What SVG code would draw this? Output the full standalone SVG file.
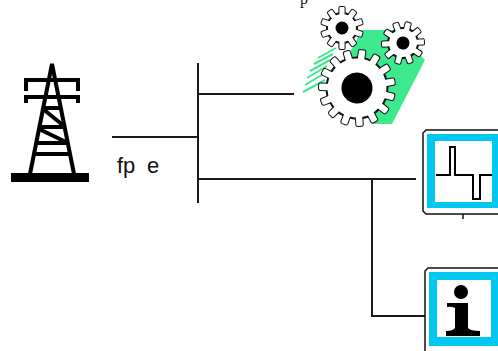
<svg xmlns="http://www.w3.org/2000/svg" xmlns:xlink="http://www.w3.org/1999/xlink" width="498" height="351" viewBox="0 0 498 351">
  <style>
    .wire { stroke: #1a1a1a; stroke-width: 2; fill: none; }
    .tower { stroke: #000; stroke-width: 4; fill: none; stroke-linejoin: miter; }
    .label { font-family: "Liberation Sans", Arial, sans-serif; font-size: 22px; fill: #111; }
    .gear-edge { fill: #fff; stroke: #111; stroke-width: 2; }
    .gear-fill { fill: #fff; stroke: none; }
    .frame { fill: #fff; stroke: #111; stroke-width: 1.5; }
    .cyan { fill: #00c8f0; }
    .hatch { stroke: #3ee88c; stroke-width: 2; }
  </style>
  <defs>
    <!-- tooth rings: each rect is a tooth pointing up, rotated round the hub -->
    <g id="teeth15">
      <rect x="-3.2" y="-38" width="6.4" height="10" rx="1.5"/>
      <rect x="-3.2" y="-38" width="6.4" height="10" rx="1.5" transform="rotate(24)"/>
      <rect x="-3.2" y="-38" width="6.4" height="10" rx="1.5" transform="rotate(48)"/>
      <rect x="-3.2" y="-38" width="6.4" height="10" rx="1.5" transform="rotate(72)"/>
      <rect x="-3.2" y="-38" width="6.4" height="10" rx="1.5" transform="rotate(96)"/>
      <rect x="-3.2" y="-38" width="6.4" height="10" rx="1.5" transform="rotate(120)"/>
      <rect x="-3.2" y="-38" width="6.4" height="10" rx="1.5" transform="rotate(144)"/>
      <rect x="-3.2" y="-38" width="6.4" height="10" rx="1.5" transform="rotate(168)"/>
      <rect x="-3.2" y="-38" width="6.4" height="10" rx="1.5" transform="rotate(192)"/>
      <rect x="-3.2" y="-38" width="6.4" height="10" rx="1.5" transform="rotate(216)"/>
      <rect x="-3.2" y="-38" width="6.4" height="10" rx="1.5" transform="rotate(240)"/>
      <rect x="-3.2" y="-38" width="6.4" height="10" rx="1.5" transform="rotate(264)"/>
      <rect x="-3.2" y="-38" width="6.4" height="10" rx="1.5" transform="rotate(288)"/>
      <rect x="-3.2" y="-38" width="6.4" height="10" rx="1.5" transform="rotate(312)"/>
      <rect x="-3.2" y="-38" width="6.4" height="10" rx="1.5" transform="rotate(336)"/>
    </g>
    <g id="teeth10">
      <rect x="-2.6" y="-21" width="5.2" height="8" rx="1"/>
      <rect x="-2.6" y="-21" width="5.2" height="8" rx="1" transform="rotate(36)"/>
      <rect x="-2.6" y="-21" width="5.2" height="8" rx="1" transform="rotate(72)"/>
      <rect x="-2.6" y="-21" width="5.2" height="8" rx="1" transform="rotate(108)"/>
      <rect x="-2.6" y="-21" width="5.2" height="8" rx="1" transform="rotate(144)"/>
      <rect x="-2.6" y="-21" width="5.2" height="8" rx="1" transform="rotate(180)"/>
      <rect x="-2.6" y="-21" width="5.2" height="8" rx="1" transform="rotate(216)"/>
      <rect x="-2.6" y="-21" width="5.2" height="8" rx="1" transform="rotate(252)"/>
      <rect x="-2.6" y="-21" width="5.2" height="8" rx="1" transform="rotate(288)"/>
      <rect x="-2.6" y="-21" width="5.2" height="8" rx="1" transform="rotate(324)"/>
    </g>
  </defs>

  <rect width="498" height="351" fill="#fff"/>

  <!-- bus bar and feeders -->
  <g id="connectors">
    <line class="wire" x1="198" y1="63" x2="198" y2="203"/>
    <line class="wire" x1="112" y1="137" x2="198" y2="137"/>
    <line class="wire" x1="198" y1="94" x2="294" y2="94"/>
    <line class="wire" x1="198" y1="179" x2="416" y2="179"/>
    <polyline class="wire" points="372,179 372,316 425,316"/>
  </g>

  <g id="supply-label">
    <text class="label" x="117" y="173">fp<tspan x="147">e</tspan></text>
  </g>

  <text x="300" y="4" font-family="'Liberation Serif', serif" font-size="16" fill="#111">p</text>

  <!-- transmission tower -->
  <g id="tower">
    <path class="tower" d="M30,174 L52,64 L74,174"/>
    <path class="tower" d="M26,91 V80 H78 V91"/>
    <path class="tower" d="M26,103 V97 H78 V103"/>
    <path class="tower" d="M43,108 H61 M43,109 L64,126 M39,127 H65 M39,129 L68,143 M36,143 H68 M34,154 H70"/>
    <rect x="11" y="173" width="78" height="9" fill="#000"/>
  </g>

  <!-- machinery -->
  <g id="gears">
    <polygon points="362,30 395,30 425,60 392,124 372,124 345,62" fill="#3ee88c"/>
    <line class="hatch" x1="303" y1="92" x2="325" y2="80"/>
    <line class="hatch" x1="305" y1="85" x2="325" y2="73"/>
    <line class="hatch" x1="307" y1="78" x2="327" y2="66"/>
    <line class="hatch" x1="310" y1="71" x2="330" y2="60"/>
    <line class="hatch" x1="314" y1="64" x2="333" y2="54"/>
    <line class="hatch" x1="318" y1="58" x2="336" y2="48"/>

    <g transform="translate(342 28)">
      <use xlink:href="#teeth10" class="gear-edge"/>
      <circle r="15" class="gear-edge"/>
      <use xlink:href="#teeth10" class="gear-fill"/>
      <circle r="6.5" fill="#000"/>
    </g>
    <g transform="translate(403 43) rotate(15)">
      <use xlink:href="#teeth10" class="gear-edge"/>
      <circle r="15" class="gear-edge"/>
      <use xlink:href="#teeth10" class="gear-fill"/>
      <circle r="6.5" fill="#000"/>
    </g>
    <g transform="translate(357 88) rotate(8)">
      <use xlink:href="#teeth15" class="gear-edge"/>
      <circle r="30.5" class="gear-edge"/>
      <use xlink:href="#teeth15" class="gear-fill"/>
      <circle r="15.5" fill="#000"/>
    </g>
  </g>

  <!-- waveform monitor -->
  <g id="scope">
    <path class="frame" d="M426,130 H505 V214 H426 L423,211 V133 Z"/>
    <rect class="cyan" x="427" y="134" width="80" height="74"/>
    <rect x="435" y="141" width="57" height="61" fill="#fff"/>
    <polyline points="436,175 450,175 450,147 455,147 455,175 473,175 473,199 480,199 480,175 492,175" fill="none" stroke="#000" stroke-width="2"/>
    <line x1="463" y1="214" x2="463" y2="219" stroke="#111" stroke-width="1.5"/>
  </g>

  <!-- information panel -->
  <g id="info">
    <path class="frame" d="M428,268 H505 V360 H425 V271 Z"/>
    <rect class="cyan" x="429" y="272" width="80" height="74"/>
    <rect x="437" y="280" width="54" height="57" fill="#fff"/>
    <circle cx="461" cy="292" r="7" fill="#000"/>
    <path d="M447,303 H468 V328 Q470,331 480,331 V336 H446 V331 Q453,331 455,328 V308 Q451,306 447,307 Z" fill="#000"/>
  </g>
</svg>
